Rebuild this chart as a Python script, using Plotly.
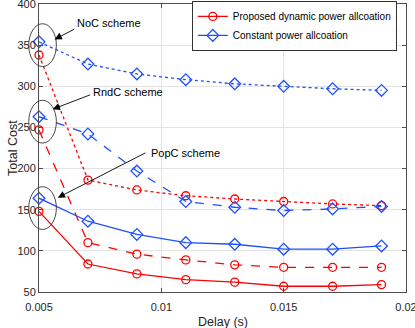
import plotly.graph_objects as go

# delay values (s)
DELAY = [0.005, 0.007, 0.009, 0.011, 0.013, 0.015, 0.017, 0.019]

# proposed dynamic power allocation
NOC_DYN = [338, 186, 174, 167, 163, 160, 157, 155]
RNDC_DYN = [247, 110, 96, 89, 83, 80, 80, 80]
POPC_DYN = [148, 84, 72, 65, 62, 57, 57, 59]

# constant power allocation
NOC_CONST = [354, 327, 315, 308, 303, 300, 297, 295]
RNDC_CONST = [263, 242, 197, 160, 153, 149, 151, 154]
POPC_CONST = [164, 136, 120, 110, 108, 102, 102, 106]

RED = "rgb(255,0,0)"
BLUE = "rgb(30,80,255)"
FONT = "Liberation Sans, Arial, sans-serif"

X_RANGE = [0.005, 0.02]
Y_RANGE = [50, 400]

fig = go.Figure()

series = [
    (NOC_DYN, RED, "circle-open", "dot", False, "Proposed dynamic power allcoation"),
    (RNDC_DYN, RED, "circle-open", "dash", False, "Proposed dynamic power allcoation"),
    (POPC_DYN, RED, "circle-open", "solid", True, "Proposed dynamic power allcoation"),
    (NOC_CONST, BLUE, "diamond-open", "dot", False, "Constant power allcoation"),
    (RNDC_CONST, BLUE, "diamond-open", "dash", False, "Constant power allcoation"),
    (POPC_CONST, BLUE, "diamond-open", "solid", True, "Constant power allcoation"),
]
for vals, col, sym, dash, show, name in series:
    fig.add_trace(go.Scatter(
        x=DELAY, y=vals, mode="lines+markers", name=name, showlegend=show,
        line=dict(color=col, width=1.3, dash=dash),
        marker=dict(symbol=sym, size=8 if sym == "circle-open" else 9,
                    color=col, line=dict(width=1.3, color=col)),
        cliponaxis=False,
    ))


def fx(x):
    return (x - X_RANGE[0]) / (X_RANGE[1] - X_RANGE[0])


def fy(y):
    return (y - Y_RANGE[0]) / (Y_RANGE[1] - Y_RANGE[0])


# ellipses around the first points: (center y)
ELLIPSE_CY = [350, 257, 152]
for cy in ELLIPSE_CY:
    fig.add_shape(type="circle", xref="x domain", yref="y domain",
                  x0=fx(0.00458), x1=fx(0.00571), y0=fy(cy - 26), y1=fy(cy + 26),
                  line=dict(color="#333333", width=0.9))

# labels: text, text pos, arrow tail, arrow head
LABELS = [
    ("NoC scheme", (0.00787, 376.7), (0.00650, 370.3), (0.00564, 357.0)),
    ("RndC scheme", (0.00865, 292.7), (0.00715, 290.3), (0.00556, 272.1)),
    ("PopC scheme", (0.01099, 218.8), (0.00941, 220.0), (0.00577, 164.6)),
]
for txt, tpos, tail, head in LABELS:
    fig.add_annotation(x=tpos[0], y=tpos[1], text=txt, showarrow=False,
                       font=dict(family=FONT, size=11, color="#000"))
    fig.add_annotation(x=head[0], y=head[1], ax=tail[0], ay=tail[1],
                       axref="x", ayref="y", text="", showarrow=True,
                       arrowhead=2, arrowsize=1.6, arrowwidth=0.9,
                       arrowcolor="#000", standoff=0, startstandoff=0)

# axis titles
fig.add_annotation(x=0.5, y=-0.103, xref="paper", yref="paper", text="Delay (s)",
                   xanchor="center", yanchor="middle", showarrow=False,
                   font=dict(family=FONT, size=12.5, color="#262626"))
fig.add_annotation(x=-0.071, y=0.5, xref="paper", yref="paper", text="Total Cost",
                   xanchor="center", yanchor="middle", textangle=-90, showarrow=False,
                   font=dict(family=FONT, size=12.5, color="#262626"))

axis_common = dict(
    showgrid=True, gridcolor="#e3e3e3", gridwidth=1,
    showline=True, linecolor="#4d4d4d", linewidth=1, mirror="ticks",
    ticks="inside", ticklen=4, tickcolor="#4d4d4d",
    zeroline=False, automargin=False, ticklabeloverflow="allow",
    tickfont=dict(family=FONT, size=11, color="#262626"),
)

fig.update_xaxes(range=X_RANGE, tickvals=[0.005, 0.01, 0.015, 0.02],
                 ticktext=["0.005", "0.01", "0.015", "0.02"],
                 ticklabelstandoff=5, **axis_common)
fig.update_yaxes(range=Y_RANGE, tickvals=list(range(50, 401, 50)), **axis_common)

fig.update_layout(
    width=415, height=328,
    margin=dict(l=39, r=9, t=4, b=36, autoexpand=False),
    paper_bgcolor="white", plot_bgcolor="white",
    font=dict(family=FONT, size=11, color="#262626"),
    legend=dict(x=0.975, xanchor="right", y=0.924, yanchor="middle",
                bgcolor="white", bordercolor="#333333", borderwidth=1,
                font=dict(family=FONT, size=10, color="#000"),
                itemwidth=30, tracegroupgap=0),
    showlegend=True,
)

# page body has a default 8px margin; remove it so the figure sits at (0, 0)
fig.write_html("out.html", config={"displayModeBar": False},
               post_script="document.body.style.margin='0';")
